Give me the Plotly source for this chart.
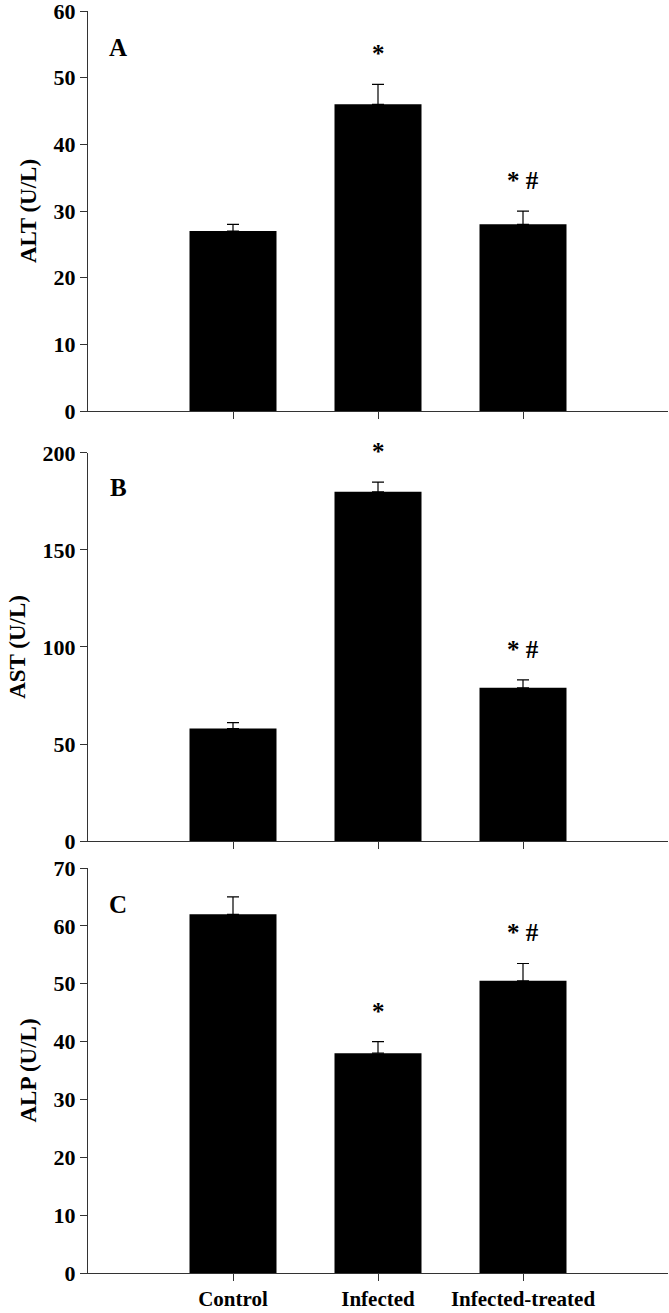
import plotly.graph_objects as go
from plotly.subplots import make_subplots

# Data
groups = ["Control", "Infected", "Infected-treated"]
alt_mean = [27, 46, 28]
alt_err = [1, 3, 2]
ast_mean = [58, 180, 79]
ast_err = [3, 5, 4]
alp_mean = [62, 38, 50.5]
alp_err = [3, 2, 3]
marks = ["", "*", "* #"]
alp_marks = ["", "*", "* #"]

panels = [
    ("A", "ALT (U/L)", alt_mean, alt_err, marks, [0, 60], 10),
    ("B", "AST (U/L)", ast_mean, ast_err, marks, [0, 200], 50),
    ("C", "ALP (U/L)", alp_mean, alp_err, alp_marks, [0, 70], 10),
]

FONT = "Liberation Serif"

fig = make_subplots(rows=3, cols=1, vertical_spacing=0.03)

# panel positions (paper fractions)
domains = [[0.683, 1.0], [0.3423, 0.6498], [0.0, 0.3209]]

for i, (letter, title, mean, err, mk, yr, dt) in enumerate(panels):
    row = i + 1
    fig.add_trace(
        go.Bar(
            x=list(range(len(groups))),
            y=mean,
            width=0.6,
            marker=dict(color="black", line=dict(color="black", width=0)),
            error_y=dict(type="data", array=err, arrayminus=[0] * len(err),
                         symmetric=False, color="black", thickness=1.2, width=6),
            showlegend=False,
        ),
        row=row, col=1,
    )
    xa = "x" if row == 1 else f"x{row}"
    ya = "y" if row == 1 else f"y{row}"
    for j, m in enumerate(mk):
        if m:
            fig.add_annotation(
                x=j, y=mean[j] + err[j], xref=xa, yref=ya,
                text=f"<b>{m}</b>", showarrow=False, yanchor="bottom",
                yshift=15, font=dict(family=FONT, size=25, color="black"),
            )
    fig.add_annotation(
        x=0.052, y=0.91, xref=f"{xa} domain", yref=f"{ya} domain",
        text=f"<b>{letter}</b>", showarrow=False, xanchor="center", yanchor="middle",
        font=dict(family=FONT, size=25, color="black"),
    )
    fig.update_yaxes(
        range=yr, tickvals=list(range(yr[0], yr[1] + 1, dt)), domain=domains[i],
        automargin=False, ticklabeloverflow="allow",
        showline=True, linecolor="#333", linewidth=1.2,
        ticks="outside", ticklen=7, tickcolor="#333",
        showgrid=False, zeroline=False,
        tickfont=dict(family=FONT, size=22, color="black", weight="bold"),
        title=dict(text=f"<b>{title}</b>", font=dict(family=FONT, size=23, color="black"), standoff=10),
        row=row, col=1,
    )
    fig.update_xaxes(
        range=[-1, 3], automargin=False, showline=True, linecolor="#333", linewidth=1.2,
        ticks="outside", ticklen=7, tickcolor="#333",
        tickvals=list(range(len(groups))),
        ticktext=groups if row == 3 else [""] * len(groups),
        showgrid=False, zeroline=False,
        tickfont=dict(family=FONT, size=21, color="black", weight="bold"),
        row=row, col=1,
    )

fig.update_layout(
    width=669, height=1313,
    margin=dict(l=88, r=1, t=11, b=40),
    plot_bgcolor="white", paper_bgcolor="white",
    bargap=0.4,
)

fig.write_html("out.html", config={"displayModeBar": False},
               post_script="document.body.style.margin='0';")
